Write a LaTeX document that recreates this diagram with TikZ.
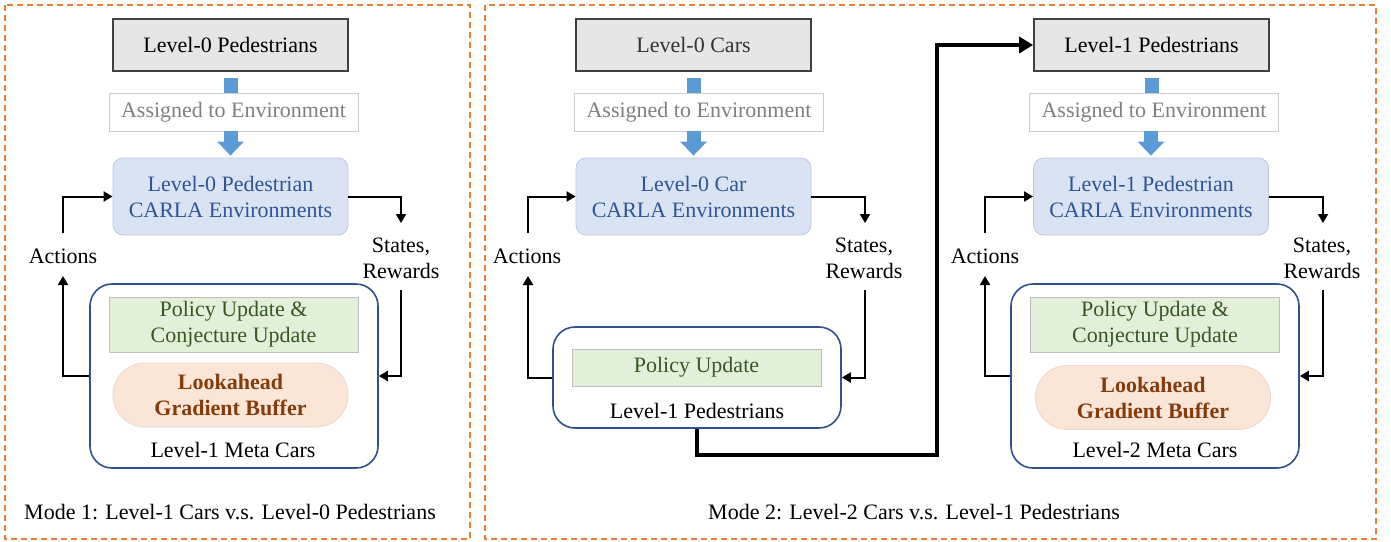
\documentclass[tikz,border=0pt]{standalone}
\usepackage{fontspec}
\setmainfont{Liberation Serif}
\usetikzlibrary{arrows.meta}
\definecolor{orng}{RGB}{237,125,49}
\definecolor{topfill}{RGB}{231,230,230}
\definecolor{topborder}{RGB}{64,64,64}
\definecolor{envfill}{RGB}{218,227,243}
\definecolor{envborder}{RGB}{190,200,220}
\definecolor{envtext}{RGB}{47,85,151}
\definecolor{metab}{RGB}{47,82,143}
\definecolor{polfill}{RGB}{226,240,217}
\definecolor{poltext}{RGB}{56,87,35}
\definecolor{lookfill}{RGB}{251,229,214}
\definecolor{lookborder}{RGB}{235,215,205}
\definecolor{looktext}{RGB}{132,60,12}
\definecolor{bluearr}{RGB}{91,155,213}
\begin{document}
\begin{tikzpicture}[x=0.5pt,y=-0.5pt,
  font=\fontsize{11}{13}\selectfont,
  topbox/.style={draw=topborder, fill=topfill, line width=0.9pt, minimum width=117.5pt, minimum height=26pt, inner sep=0pt},
  lblbox/.style={draw=black!20, line width=0.4pt, fill=white, text=black!50, minimum width=124.5pt, minimum height=19pt, inner sep=0pt},
  envbox/.style={draw=envborder, fill=envfill, rounded corners=5pt, text=envtext, align=center, minimum width=117.5pt, minimum height=38.5pt, line width=0.4pt, inner sep=0pt},
  metabox/.style={draw=metab, line width=0.8pt, rounded corners=11pt, minimum width=144pt, minimum height=92pt, inner sep=0pt},
  polbox/.style={draw=black!25, fill=polfill, text=poltext, align=center, minimum width=124.5pt, minimum height=27.5pt, line width=0.4pt, inner sep=0pt},
  lookbox/.style={fill=lookfill, draw=lookborder, line width=0.4pt, text=looktext, font=\fontsize{11}{13}\selectfont\bfseries, align=center, rounded corners=15.9pt, minimum width=117.5pt, minimum height=32pt, inner sep=0pt},
  txt/.style={align=center, inner sep=0pt},
  frame/.style={draw=orng, line width=0.8pt, dash pattern=on 3pt off 2pt},
  arr/.style={line width=1pt, -{Triangle[length=4.5pt,width=5pt]}},
  bigarr/.style={line width=2.2pt, -{Triangle[length=7pt,width=8pt]}},
  bstem/.style={draw=bluearr, line width=7pt},
  barr/.style={draw=bluearr, line width=7pt, -{Triangle[length=7pt,width=13pt]}, shorten >=1pt}
]
\useasboundingbox (0,0) rectangle (1391,541);
\fill[white] (0,0) rectangle (1391,541);

% frames
\draw[frame] (5,5) rectangle (470,539);
\draw[frame] (485,5) rectangle (1376,539);

% ===== Mode 1 =====
\node[topbox] (top1) at (230.5,45) {Level-0 Pedestrians};
\node[lblbox] (lbl1) at (233.5,112) {Assigned to Environment};
\node[envbox] (env1) at (230.5,196.5) {Level-0 Pedestrian\\CARLA Environments};
\node[metabox] (meta1) at (234,376) {};
\node[polbox] (pol1) at (233.5,324.5) {Policy Update \&\\Conjecture Update};
\node[lookbox] (look1) at (230.5,395) {Lookahead\\Gradient Buffer};
\node[txt] (ml1) at (233,450) {Level-1 Meta Cars};
\node[txt] (act1) at (63,256) {Actions};
\node[txt] (st1) at (401,258) {States,\\Rewards};
\node[txt] (mode1) at (230,512) {Mode 1: Level-1 Cars v.s. Level-0 Pedestrians};
\coordinate (a1s) at (63,233);
\coordinate (a1e) at (63,276);
\coordinate (s1s) at (401,290);
\coordinate (s1e) at (401,223);

\draw[bstem] ([yshift=-3pt]top1.south) -- (top1.south |- lbl1.north);
\draw[barr] (lbl1.south -| env1.north) -- (env1.north);
\draw[arr] (a1s) |- (env1.west);
\draw[arr] (env1.east) -| (s1e);
\draw[arr] (meta1.west) -| (a1e);
\draw[arr] (s1s) |- (meta1.east);

% ===== Mode 2 =====
\node[topbox, text=black!80] (top2) at (693.5,45) {Level-0 Cars};
\node[lblbox] (lbl2) at (699,112) {Assigned to Environment};
\node[envbox] (env2) at (693.5,196.5) {Level-0 Car\\CARLA Environments};
\node[metabox, minimum height=50.5pt] (ped2) at (697,377.5) {};
\node[polbox, minimum height=18.5pt] (pol2) at (696.5,367.5) {Policy Update};
\node[txt] (pl2) at (697,411) {Level-1 Pedestrians};
\node[txt] (act2) at (527,256) {Actions};
\node[txt] (st2) at (864,258) {States,\\Rewards};
\node[txt] (mode2) at (914,512) {Mode 2: Level-2 Cars v.s. Level-1 Pedestrians};
\coordinate (a2s) at (528,233);
\coordinate (a2e) at (528,276);
\coordinate (s2s) at (865,290);
\coordinate (s2e) at (865,223);

\draw[bstem] ([yshift=-3pt]top2.south) -- (top2.south |- lbl2.north);
\draw[barr] (lbl2.south -| env2.north) -- (env2.north);
\draw[arr] (a2s) |- (env2.west);
\draw[arr] (env2.east) -| (s2e);
\draw[arr] (ped2.west) -| (a2e);
\draw[arr] (s2s) |- (ped2.east);

% ===== right part =====
\node[topbox] (top3) at (1151.5,45) {Level-1 Pedestrians};
\node[lblbox] (lbl3) at (1154,112) {Assigned to Environment};
\node[envbox] (env3) at (1151,196.5) {Level-1 Pedestrian\\CARLA Environments};
\node[metabox] (meta3) at (1155,376) {};
\node[polbox] (pol3) at (1155,324.5) {Policy Update \&\\Conjecture Update};
\node[lookbox] (look3) at (1153,397.5) {Lookahead\\Gradient Buffer};
\node[txt] (ml3) at (1155,450) {Level-2 Meta Cars};
\node[txt] (act3) at (985,256) {Actions};
\node[txt] (st3) at (1322,258) {States,\\Rewards};
\coordinate (a3s) at (985,233);
\coordinate (a3e) at (985,276);
\coordinate (s3s) at (1323,290);
\coordinate (s3e) at (1323,223);

\draw[bstem] ([yshift=-3pt]top3.south) -- (top3.south |- lbl3.north);
\draw[barr] (lbl3.south -| env3.north) -- (env3.north);
\draw[arr] (a3s) |- (env3.west);
\draw[arr] (env3.east) -| (s3e);
\draw[arr] (meta3.west) -| (a3e);
\draw[arr] (s3s) |- (meta3.east);

% thick connector
\coordinate (bend) at (937,455);
\draw[bigarr] (ped2.south) |- (bend) |- (top3.west);
\end{tikzpicture}
\end{document}
